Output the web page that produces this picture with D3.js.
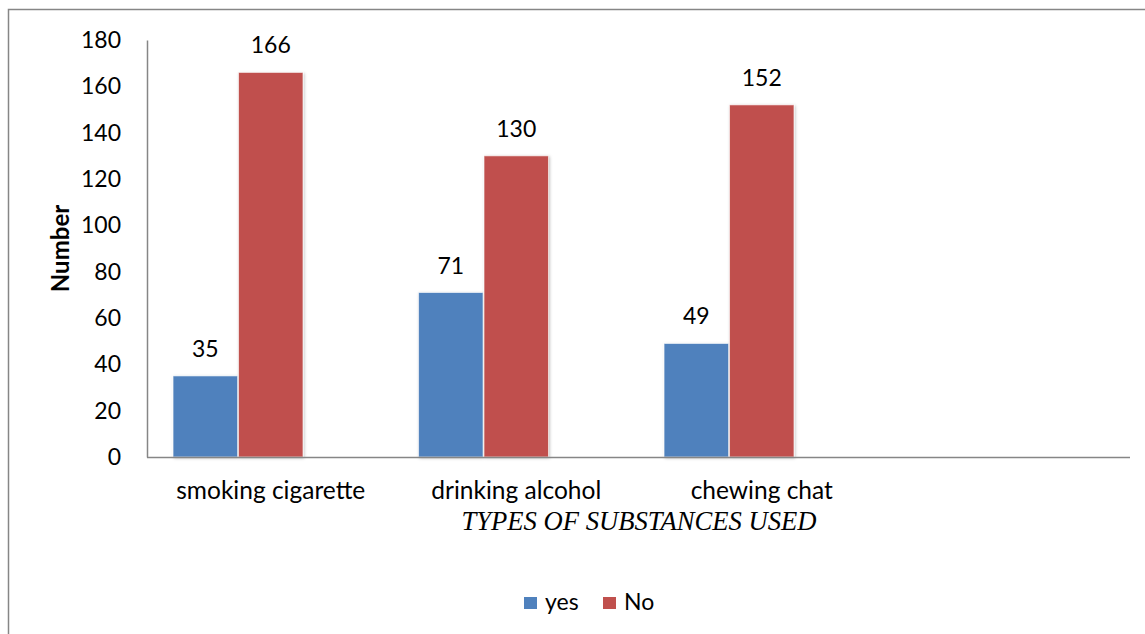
<!DOCTYPE html>
<html>
<head>
<meta charset="utf-8">
<script src="https://cdn.jsdelivr.net/npm/d3@7"></script>
<style>
	body { margin: 0; background: #fff; }
	text { font-family: Lato, "Noto Sans", sans-serif; fill: #000; }
</style>
</head>
<body>
<div id="chart"></div>
<script>
// Data
const categories = ["smoking cigarette", "drinking alcohol", "chewing chat"];
const seriesNames = ["yes", "No"];
const yesValues = [35, 71, 49];
const noValues = [166, 130, 152];
const yTicks = [0, 20, 40, 60, 80, 100, 120, 140, 160, 180];
const colors = { yes: "#4F81BD", No: "#C0504D" };

const width = 1145, height = 634;
const margin = { top: 40, right: 15, bottom: 177, left: 148 };
const axisColor = "#868686";

const svg = d3.select("#chart").append("svg")
	.attr("width", width).attr("height", height);

// soft shadow like the office chart
const defs = svg.append("defs");
defs.append("filter").attr("id", "shadow")
	.attr("x", "-20%").attr("y", "-5%").attr("width", "140%").attr("height", "110%")
	.append("feDropShadow")
	.attr("dx", 1).attr("dy", 1).attr("stdDeviation", 1.5)
	.attr("flood-color", "#000").attr("flood-opacity", 0.25);

// outer chart border (right and bottom edges fall outside the picture)
svg.append("rect")
	.attr("x", 8.5).attr("y", 9.5)
	.attr("width", 1300).attr("height", 800)
	.attr("fill", "none").attr("stroke", axisColor).attr("stroke-width", 1.5);

const plotBottom = height - margin.bottom;
const plotRight = width - margin.right;

// Scales: the category axis keeps one empty slot at the end
const slots = [...categories, ""];
const x = d3.scaleBand(slots, [margin.left, plotRight]).paddingInner(0.2).paddingOuter(0.1);
const xInner = d3.scaleBand([...seriesNames, "_"], [0, x.bandwidth()]);
const y = d3.scaleLinear([0, 180], [plotBottom, margin.top]);

const rows = categories.map((c, i) => ({ category: c, yes: yesValues[i], No: noValues[i] }));

// Bars
const groups = svg.append("g").selectAll("g")
	.data(rows).join("g")
	.attr("transform", d => `translate(${x(d.category)},0)`);

groups.selectAll("rect")
	.data(d => seriesNames.map(k => ({ key: k, value: d[k] })))
	.join("rect")
	.attr("x", d => xInner(d.key) + 0.5)
	.attr("width", xInner.bandwidth() - 1)
	.attr("y", d => y(d.value))
	.attr("height", d => y(0) - y(d.value))
	.attr("fill", d => colors[d.key])
	.attr("stroke", "#fff").attr("stroke-opacity", 0.6).attr("stroke-width", 1)
	.attr("filter", "url(#shadow)");

// Data labels
groups.selectAll("text.value")
	.data(d => seriesNames.map(k => ({ key: k, value: d[k] })))
	.join("text")
	.classed("value", true)
	.attr("x", d => xInner(d.key) + xInner.bandwidth() / 2)
	.attr("y", d => y(d.value) - 19)
	.attr("text-anchor", "middle")
	.style("font-size", "23px")
	.text(d => d.value);

// Axes
const axisY = svg.append("g")
	.attr("transform", `translate(${margin.left - 1},0)`)
	.call(d3.axisLeft(y).tickValues(yTicks).tickSize(0).tickPadding(26));
axisY.select(".domain").attr("stroke", axisColor).attr("stroke-width", 1.5);
axisY.selectAll("text").style("font-size", "23px").style("font-family", "Lato, sans-serif");

const axisX = svg.append("g")
	.attr("transform", `translate(0,${plotBottom})`)
	.call(d3.axisBottom(x).tickSize(0).tickSizeOuter(0));
axisX.select(".domain").attr("stroke", axisColor).attr("stroke-width", 1.5)
	.attr("d", `M${margin.left - 1},0.5H${plotRight}`);
axisX.selectAll("text")
	.attr("y", 42).attr("dy", 0)
	.style("font-size", "24.5px").style("font-family", "Lato, sans-serif");

// Axis titles
svg.append("text")
	.attr("transform", `translate(69,${(margin.top + plotBottom) / 2}) rotate(-90)`)
	.attr("text-anchor", "middle")
	.style("font-size", "24px").style("font-weight", "bold")
	.text("Number");

svg.append("text")
	.attr("x", (margin.left + plotRight) / 2)
	.attr("y", 530)
	.attr("text-anchor", "middle")
	.attr("textLength", 355).attr("lengthAdjust", "spacingAndGlyphs")
	.style("font-family", "'Liberation Serif', 'DejaVu Serif', serif")
	.style("font-style", "italic")
	.style("font-size", "27px")
	.text("TYPES OF SUBSTANCES USED");

// Legend
const legend = svg.append("g").attr("transform", "translate(524,610)");
const legendX = d3.scalePoint(seriesNames, [0, 79]);
const items = legend.selectAll("g").data(seriesNames).join("g")
	.attr("transform", d => `translate(${legendX(d)},0)`);
items.append("rect")
	.attr("x", 0).attr("y", -13).attr("width", 13).attr("height", 12)
	.attr("fill", d => colors[d]);
items.append("text")
	.attr("x", 21).attr("y", 0)
	.style("font-size", "23px")
	.text(d => d);
</script>
</body>
</html>
